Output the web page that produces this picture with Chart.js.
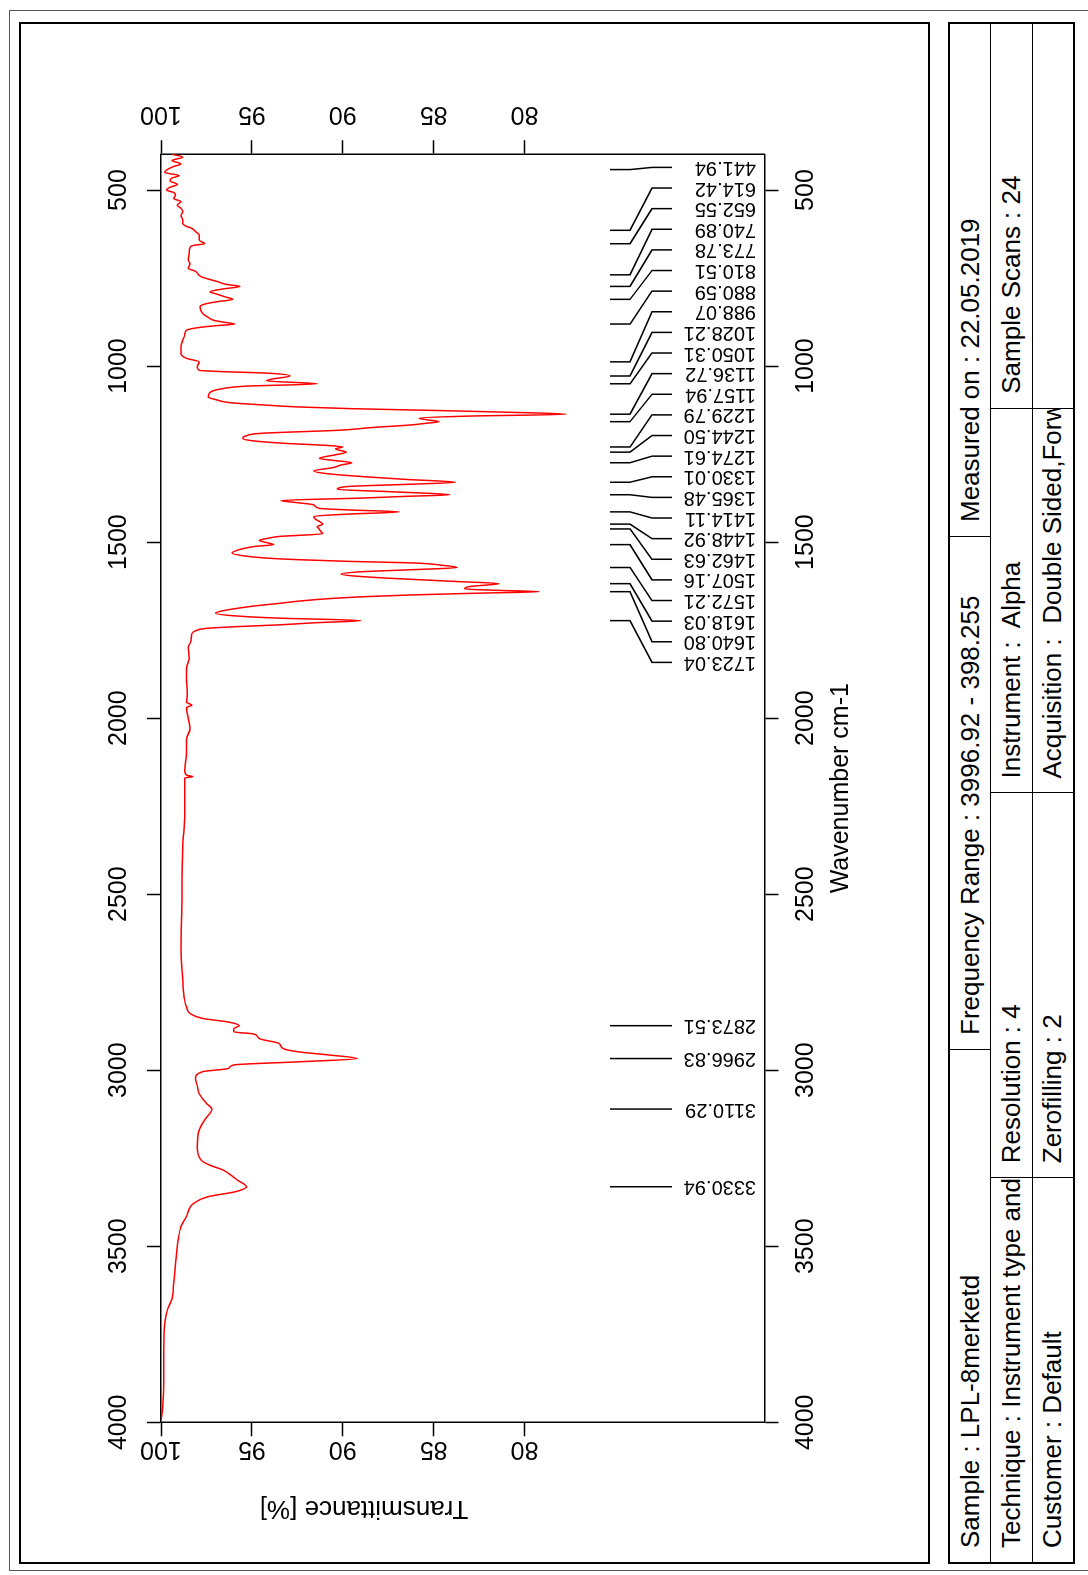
<!DOCTYPE html>
<html>
<head>
<meta charset="utf-8">
<title>IR spectrum LPL-8merketd</title>
<script src="https://cdn.jsdelivr.net/npm/chart.js@4.4.1/dist/chart.umd.min.js"></script>
<style>
  body { margin: 0; width: 1088px; height: 1575px; overflow: hidden; background: #fff; }
  /* the page is laid out landscape and turned a quarter turn, like the printout */
  #page { position: absolute; left: 0; top: 0; width: 1575px; height: 1088px;
          transform-origin: 0 0; transform: translateY(1575px) rotate(-90deg);
          font-family: "Liberation Sans", Arial, sans-serif; color: #000; }
  #page canvas { position: absolute; left: 0; top: 0; }
  .box { position: absolute; box-sizing: border-box; }
  #outer { left: 4px; top: 9px; width: 1561px; height: 1100px; border: 1px solid #555; }
  #frame { left: 11px; top: 19px; width: 1542px; height: 911px; border: 2px solid #000; }
  #info { left: 11px; top: 948px; width: 1542px; height: 127px; border: 2px solid #000;
          display: flex; flex-direction: column; }
  .row { display: flex; flex: 1; border-top: 1.5px solid #000; }
  .row:first-child { border-top: none; }
  .cell { flex: 1; overflow: hidden; white-space: pre; font-size: 26px; padding-left: 14px;
          display: flex; align-items: center; border-left: 1.5px solid #000; min-width: 0; }
  .cell:first-child { border-left: none; }
</style>
</head>
<body>
<div id="page">
  <div class="box" id="outer"></div>
  <div class="box" id="frame"></div>
  <div class="box" id="info">
    <div class="row">
      <div class="cell">Sample : LPL-8merketd</div>
      <div class="cell">Frequency Range : 3996.92 - 398.255</div>
      <div class="cell">Measured on : 22.05.2019</div>
    </div>
    <div class="row">
      <div class="cell">Technique : Instrument type and / or accessory</div>
      <div class="cell">Resolution : 4</div>
      <div class="cell">Instrument :  Alpha</div>
      <div class="cell">Sample Scans : 24</div>
    </div>
    <div class="row">
      <div class="cell">Customer : Default</div>
      <div class="cell">Zerofilling : 2</div>
      <div class="cell">Acquisition :  Double Sided,Forward-Backward</div>
      <div class="cell"></div>
    </div>
  </div>
  <canvas id="spectrum" width="1575" height="1088"></canvas>
</div>

<script>
// spectrum: wavenumber (cm-1) and transmittance (%)
const wavenumber = [
  398.3, 407, 416, 426, 433, 440, 450, 459, 466, 474, 484, 492, 500, 507, 514, 524, 533, 543, 552, 561,
  573, 585, 595, 603, 609, 618, 628, 642, 652.5, 657, 662, 679, 698, 710, 722, 731, 746, 760, 768, 773.8,
  781, 789, 796, 803, 810.5, 817, 824, 832, 851, 862, 870, 875, 880.6, 885, 890, 898, 912, 926, 945, 964,
  978, 988, 1002, 1012, 1016, 1020, 1028.2, 1037, 1042, 1050.3, 1057, 1066, 1075, 1088, 1095, 1104, 1110, 1116, 1121, 1126,
  1131, 1136.7, 1142, 1148, 1153, 1157.9, 1163, 1167, 1175, 1182, 1191, 1198, 1205, 1212, 1220, 1225, 1229.8, 1235, 1239, 1244.5,
  1252, 1262, 1268, 1274.6, 1281, 1288, 1298, 1306, 1314, 1322, 1330, 1336, 1342, 1350, 1357, 1365.5, 1370, 1375, 1382, 1388,
  1394, 1404, 1409, 1414.1, 1420, 1427, 1435, 1441, 1448.9, 1456, 1462.6, 1470, 1476, 1484, 1490, 1495, 1500, 1507.2, 1512, 1520,
  1531, 1540, 1546, 1550, 1555, 1559, 1566, 1572.2, 1578, 1584, 1591, 1597, 1603, 1612, 1618, 1626, 1633, 1637, 1640.8, 1645,
  1650, 1655, 1660, 1667, 1674, 1681, 1688, 1695, 1702, 1710, 1716, 1723, 1729, 1735, 1740, 1745, 1752, 1760, 1780, 1800,
  1830, 1860, 1892, 1930, 1955, 1963, 1970, 2000, 2030, 2060, 2100, 2150, 2162, 2166, 2170, 2200, 2270, 2363, 2450, 2500,
  2650, 2745, 2800, 2820, 2839, 2853, 2863, 2873.5, 2882, 2891, 2897, 2910, 2924, 2938, 2948, 2957, 2966.8, 2976, 2985, 2995,
  3004, 3023, 3045, 3066, 3094, 3110.3, 3141, 3170, 3217, 3255, 3270, 3283, 3300, 3312, 3330.9, 3345, 3359, 3378, 3416, 3444,
  3480, 3550, 3604, 3650, 3681, 3719, 3800, 3889, 3950, 3996.9
];
const transmittance = [
  99.4, 98.8, 99.4, 98.9, 99.3, 99.6, 99.8, 99.0, 99.4, 99.5, 99.1, 99.5, 99.7, 99.3, 99.2, 99.3, 98.9, 99.1, 98.9, 98.8,
  98.9, 98.8, 98.8, 98.6, 98.3, 98.1, 97.9, 97.9, 97.6, 98.2, 98.4, 98.45, 98.5, 98.4, 98.5, 98.1, 97.8, 96.9, 96.4, 95.65,
  96.6, 97.3, 96.9, 96.5, 96.05, 96.9, 97.6, 97.85, 97.7, 97.4, 97.1, 96.6, 95.95, 96.9, 97.85, 98.6, 98.7, 98.8, 98.9, 98.9,
  98.6, 97.9, 98.0, 97.9, 96.5, 94.2, 92.9, 93.9, 94.2, 91.4, 95.3, 96.8, 97.3, 97.4, 97.0, 96.2, 94.5, 92.5, 89.5, 85.0,
  81.0, 77.7, 83.0, 85.8, 85.3, 84.7, 85.5, 86.2, 88.5, 90.1, 94.5, 95.3, 95.5, 95.0, 93.0, 91.0, 90.0, 90.4, 90.2, 89.8,
  90.4, 91.3, 90.5, 89.5, 90.1, 90.5, 91.6, 90.8, 88.9, 86.5, 83.8, 86.5, 89.7, 90.3, 87.3, 84.1, 86.5, 89.0, 93.4, 92.5,
  91.6, 91.3, 89.5, 86.9, 89.5, 91.6, 91.5, 91.3, 91.1, 91.4, 91.3, 91.2, 91.1, 93.5, 94.2, 94.6, 94.3, 93.8, 94.8, 95.6,
  96.1, 95.3, 94.0, 92.4, 89.5, 86.2, 84.5, 83.7, 86.0, 88.9, 90.1, 89.2, 87.3, 83.7, 81.4, 83.0, 83.3, 81.5, 79.2, 82.5,
  86.2, 88.8, 90.6, 92.3, 93.5, 94.8, 95.8, 96.6, 97.0, 95.8, 93.5, 89.0, 91.5, 93.5, 95.8, 97.5, 98.1, 98.3, 98.35, 98.5,
  98.45, 98.6, 98.6, 98.55, 98.6, 98.3, 98.6, 98.5, 98.4, 98.6, 98.6, 98.7, 98.6, 98.25, 98.7, 98.7, 98.7, 98.8, 98.85, 98.85,
  98.9, 98.8, 98.7, 98.6, 98.4, 97.7, 96.3, 95.7, 96.0, 96.0, 94.9, 94.6, 93.5, 93.3, 92.4, 90.7, 89.2, 92.4, 96.0, 96.3,
  97.7, 98.1, 98.0, 97.9, 97.5, 97.2, 97.6, 97.9, 98.0, 97.8, 97.3, 96.6, 96.1, 95.8, 95.3, 95.9, 97.4, 98.2, 98.6, 98.9,
  99.05, 99.2, 99.3, 99.4, 99.65, 99.8, 99.85, 99.85, 99.9, 100
];
const waveTicks = [500, 1000, 1500, 2000, 2500, 3000, 3500, 4000];
const transTicks = [80, 85, 90, 95, 100];
const peaks = [
  441.94, 614.42, 652.55, 740.89, 773.78, 810.51, 880.59, 988.07, 1028.21, 1050.31,
  1136.72, 1157.94, 1229.79, 1244.50, 1274.61, 1330.01, 1365.48, 1414.11, 1448.92, 1462.63,
  1507.16, 1572.21, 1618.03, 1640.80, 1723.04, 2873.51, 2966.83, 3110.29, 3330.94
];

const FAMILY = '"Liberation Sans", Arial, sans-serif';
const tickFont = { family: FAMILY, size: 25, lineHeight: 1.2 };

// crowded peak labels are packed into one evenly spaced block,
// placed so that no leader line has to slant more than needed
function spread(targets, gap) {
  let groups = targets.map((t, i) => ({ start: i, end: i, c: t }));
  let merged = true;
  while (merged) {
    merged = false;
    for (let g = 0; g < groups.length - 1; g++) {
      const a = groups[g], b = groups[g + 1];
      if (b.c - (a.c + (a.end - a.start) * gap) < gap) {
        const e = [];
        for (let k = a.start; k <= b.end; k++) e.push(targets[k] - (k - a.start) * gap);
        groups.splice(g, 2, { start: a.start, end: b.end, c: (Math.max(...e) + Math.min(...e)) / 2 });
        merged = true;
        break;
      }
    }
  }
  const pos = [];
  groups.forEach(g => { for (let k = g.start; k <= g.end; k++) pos[k] = g.c + (k - g.start) * gap; });
  return pos;
}

const peakLabels = {
  id: 'peakLabels',
  afterDraw(chart) {
    const { ctx, chartArea: area, scales } = chart;
    const gap = 20.625;
    const u = peaks.map(p => area.right - scales.x.getPixelForValue(p));
    const pos = spread(u, gap);
    const yA = area.bottom - 154.5, yB = area.bottom - 134.5, yC = area.bottom - 112.5, yD = area.bottom - 92.5;
    const yText = area.bottom - 8.5;

    ctx.save();
    ctx.strokeStyle = '#000';
    ctx.lineWidth = 1.5;
    ctx.fillStyle = '#000';
    ctx.font = '20px ' + FAMILY;
    ctx.textAlign = 'left';
    ctx.textBaseline = 'middle';
    peaks.forEach((p, i) => {
      const a = area.right - u[i], b = area.right - pos[i];
      ctx.beginPath();
      ctx.moveTo(a, yA); ctx.lineTo(a, yB); ctx.lineTo(b, yC); ctx.lineTo(b, yD);
      ctx.stroke();
      ctx.save();
      ctx.translate(b, yText);
      ctx.rotate(-Math.PI / 2);
      ctx.fillText(p.toFixed(2), 0, 0);
      ctx.restore();
    });

    // y axis title sits off-centre on the printout
    ctx.save();
    ctx.translate(area.left - 86, area.top + 203);
    ctx.rotate(-Math.PI / 2);
    ctx.font = '26px ' + FAMILY;
    ctx.textAlign = 'center';
    ctx.fillText('Transmittance [%]', 0, 0);
    ctx.restore();
    ctx.restore();
  }
};

function fixedTicks(values) {
  return scale => { scale.ticks = values.map(v => ({ value: v })); };
}
const grid = { display: true, drawOnChartArea: false, drawTicks: true, tickLength: 14, tickWidth: 1.5, tickColor: '#000' };
const border = { display: true, color: '#000', width: 1.5 };

function waveAxis(position, pad) {
  return {
    type: 'linear', position, reverse: true, min: 398.255, max: 4000,
    afterBuildTicks: fixedTicks(waveTicks),
    afterFit: s => { s.height = 100; },
    grid, border,
    ticks: { autoSkip: false, minRotation: 0, maxRotation: 0, padding: pad, color: '#000', font: tickFont,
             callback: v => String(v) }
  };
}
function transAxis(position, pad) {
  return {
    type: 'linear', position, min: 66.8, max: 100,
    afterBuildTicks: fixedTicks(transTicks),
    afterFit: s => { s.width = 100; },
    grid, border,
    ticks: { autoSkip: false, minRotation: 90, maxRotation: 90, crossAlign: 'center', padding: pad,
             color: '#000', font: tickFont, callback: v => String(v) }
  };
}

const xBottom = waveAxis('bottom', 13);
xBottom.title = { display: true, text: 'Wavenumber cm-1', color: '#000',
                  font: { family: FAMILY, size: 25, lineHeight: 1.2 }, padding: { top: 0, bottom: 8 } };

new Chart(document.getElementById('spectrum'), {
  type: 'line',
  data: {
    datasets: [{
      label: 'LPL-8merketd',
      data: wavenumber.map((w, i) => ({ x: w, y: transmittance[i] })),
      borderColor: '#ff0000',
      borderWidth: 1.5,
      pointRadius: 0,
      cubicInterpolationMode: 'monotone',
      fill: false
    }]
  },
  options: {
    responsive: false,
    animation: false,
    devicePixelRatio: 1,
    events: [],
    layout: { padding: { left: 52.7, right: 54.2, top: 61, bottom: 223.5 } },
    plugins: { legend: { display: false }, tooltip: { enabled: false } },
    scales: {
      x: xBottom,
      x2: waveAxis('top', 12.5),
      y: transAxis('left', -8.2),
      y2: transAxis('right', 5.6)
    }
  },
  plugins: [peakLabels]
});
</script>
</body>
</html>
